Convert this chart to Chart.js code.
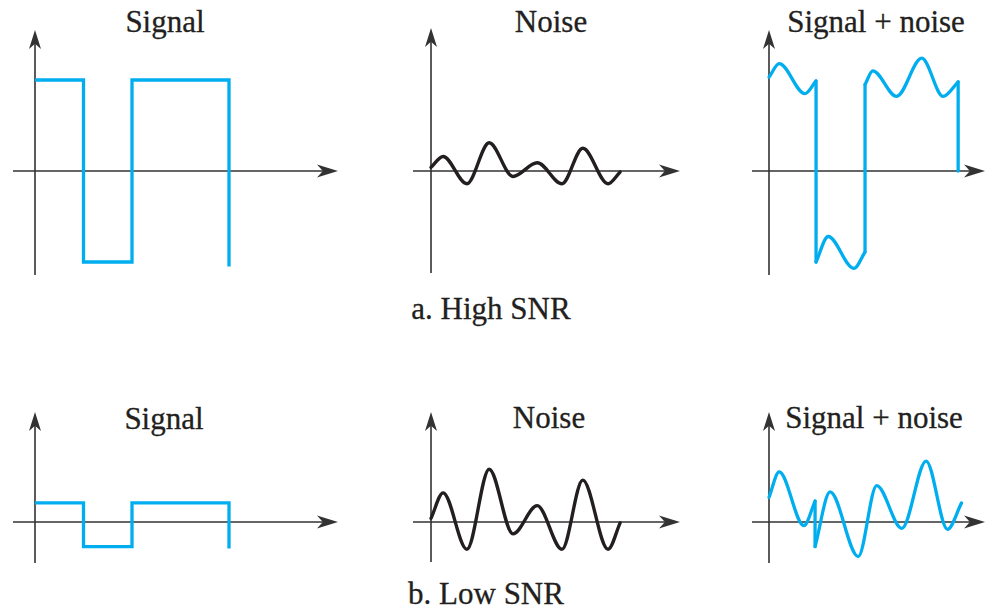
<!DOCTYPE html>
<html>
<head>
<meta charset="utf-8">
<script src="https://cdn.jsdelivr.net/npm/chart.js@4/dist/chart.umd.min.js"></script>
<style>
html,body{margin:0;padding:0;background:#fff;}
body{width:987px;height:610px;position:relative;overflow:hidden;font-family:"Liberation Serif","Times New Roman",serif;color:#231f20;}
canvas{position:absolute;}
.t{position:absolute;font-family:"Liberation Serif","Times New Roman",serif;font-size:31px;line-height:31px;white-space:nowrap;transform:translateX(-50%);-webkit-text-stroke:0.3px #231f20;}
</style>
</head>
<body>
<div class="t" style="left:165px;top:6px;">Signal</div>
<div class="t" style="left:551px;top:6px;">Noise</div>
<div class="t" style="left:876px;top:6px;">Signal + noise</div>
<div class="t" style="left:491px;top:293px;">a. High SNR</div>
<div class="t" style="left:164px;top:403px;">Signal</div>
<div class="t" style="left:549px;top:402px;">Noise</div>
<div class="t" style="left:874px;top:402px;">Signal + noise</div>
<div class="t" style="left:486px;top:578px;">b. Low SNR</div>

<canvas id="a1" width="360" height="300" style="left:0;top:0"></canvas>
<canvas id="a2" width="330" height="300" style="left:380px;top:0"></canvas>
<canvas id="a3" width="257" height="300" style="left:730px;top:0"></canvas>
<canvas id="b1" width="360" height="230" style="left:0;top:380px"></canvas>
<canvas id="b2" width="330" height="230" style="left:380px;top:380px"></canvas>
<canvas id="b3" width="257" height="230" style="left:730px;top:380px"></canvas>

<script>
// ---------- data (time in bit periods, amplitude relative to high-SNR signal level) ----------
// a. High SNR
const signalTimeA = [0, 1, 1, 2, 2, 4, 4];
const signalA     = [1, 1, -1, -1, 1, 1, -1.05];
const noiseTimeA  = [0, 0.25, 0.74, 1.2, 1.69, 2.19, 2.7, 3.13, 3.65, 3.9];
const noiseA      = [0.04, 0.16, -0.14, 0.31, -0.06, 0.09, -0.14, 0.25, -0.14, -0.01];
const sumTimeA    = [0, 0.21, 0.74, 0.97, 0.97, 1.22, 1.75, 1.98, 1.98, 2.14, 2.63, 3.15, 3.59, 3.9, 3.9];
const sumA        = [1.03, 1.18, 0.85, 0.99, -1.0, -0.72, -1.07, -0.89, 0.95, 1.1, 0.82, 1.24, 0.82, 0.98, 0];
// b. Low SNR
const signalTimeB = [0, 1, 1, 2, 2, 4, 4];
const signalB     = [0.21, 0.21, -0.27, -0.27, 0.21, 0.21, -0.29];
const noiseTimeB  = [0, 0.25, 0.74, 1.2, 1.69, 2.19, 2.7, 3.13, 3.65, 3.9];
const noiseB      = [0.04, 0.32, -0.3, 0.58, -0.13, 0.18, -0.3, 0.46, -0.3, -0.01];
const sumTimeB    = [0, 0.21, 0.72, 0.95, 0.95, 1.26, 1.84, 2.22, 2.74, 3.24, 3.68, 3.97];
const sumB        = [0.27, 0.55, -0.04, 0.23, -0.27, 0.33, -0.38, 0.4, -0.07, 0.67, -0.08, 0.21];

// ---------- styling / layout ----------
const BLUE = '#00aeef';
const INK = '#231f20';
const AXIS = '#333333';
const UX = 48.5;   // px per bit period
const UY = 91;     // px per amplitude unit

function pts(t, v){ return t.map((x,i)=>({x:x, y:v[i]})); }

function splitRuns(t, v){
  const runs = [], jumps = [];
  let cur = [{x:t[0], y:v[0]}];
  for (let i = 1; i < t.length; i++){
    if (t[i] === t[i-1]){
      runs.push(cur);
      jumps.push([{x:t[i-1], y:v[i-1]}, {x:t[i], y:v[i]}]);
      cur = [{x:t[i], y:v[i]}];
    } else cur.push({x:t[i], y:v[i]});
  }
  runs.push(cur);
  return {runs: runs.filter(r => r.length > 1), jumps};
}

function stepDatasets(t, v){
  return [{data: pts(t, v), borderColor: BLUE, borderWidth: 3.3, tension: 0,
           borderJoinStyle: 'miter', borderCapStyle: 'butt'}];
}
function smoothDatasets(t, v, color, width){
  const s = splitRuns(t, v), out = [];
  s.runs.forEach(r => out.push({data: r, borderColor: color, borderWidth: width,
      cubicInterpolationMode: 'monotone', tension: 0.4, borderCapStyle: 'round', borderJoinStyle: 'round'}));
  s.jumps.forEach(j => out.push({data: j, borderColor: color, borderWidth: width, tension: 0,
      borderCapStyle: 'round'}));
  return out;
}

const axesPlugin = {
  id: 'axesArrows',
  beforeDatasetsDraw(chart, args, opts){
    const ctx = chart.ctx, xs = chart.scales.x, ys = chart.scales.y;
    const x0 = xs.getPixelForValue(0), y0 = ys.getPixelForValue(0);
    const xa = xs.getPixelForValue(opts.x[0]), xb = xs.getPixelForValue(opts.x[1]);
    const ya = ys.getPixelForValue(opts.y[0]), yb = ys.getPixelForValue(opts.y[1]);
    ctx.save();
    ctx.strokeStyle = AXIS; ctx.fillStyle = AXIS; ctx.lineWidth = 1.6;
    ctx.beginPath();
    ctx.moveTo(xa, y0); ctx.lineTo(xb - 10, y0);
    ctx.moveTo(x0, ya); ctx.lineTo(x0, yb + 10);
    ctx.stroke();
    // x arrow
    const L = 21, W = 6.5;
    ctx.beginPath();
    ctx.moveTo(xb, y0); ctx.lineTo(xb - L, y0 - W); ctx.lineTo(xb - L*0.72, y0); ctx.lineTo(xb - L, y0 + W);
    ctx.closePath(); ctx.fill();
    // y arrow
    const L2 = 19, W2 = 6;
    ctx.beginPath();
    ctx.moveTo(x0, yb); ctx.lineTo(x0 - W2, yb + L2); ctx.lineTo(x0, yb + L2*0.72); ctx.lineTo(x0 + W2, yb + L2);
    ctx.closePath(); ctx.fill();
    ctx.restore();
  }
};

const panels = [
  {id:'a1', box:[0,0,360,300],     origin:[35,171],  ax:[-0.454,6.247], ay:[-1.143,1.549], ds: stepDatasets(signalTimeA, signalA)},
  {id:'a2', box:[380,0,330,300],   origin:[431,171], ax:[-0.371,5.134], ay:[-1.121,1.571], ds: smoothDatasets(noiseTimeA, noiseA, INK, 3.4)},
  {id:'a3', box:[730,0,257,300],   origin:[769,171], ax:[-0.351,4.454], ay:[-1.143,1.549], ds: smoothDatasets(sumTimeA, sumA, BLUE, 3.3)},
  {id:'b1', box:[0,380,360,230],   origin:[35,522],  ax:[-0.454,6.247], ay:[-0.451,1.209], ds: stepDatasets(signalTimeB, signalB)},
  {id:'b2', box:[380,380,330,230], origin:[431,522], ax:[-0.371,5.134], ay:[-0.440,1.209], ds: smoothDatasets(noiseTimeB, noiseB, INK, 3.4)},
  {id:'b3', box:[730,380,257,230], origin:[769,522], ax:[-0.351,4.454], ay:[-0.451,1.209], ds: smoothDatasets(sumTimeB, sumB, BLUE, 3.3)}
];

panels.forEach(p => {
  const [L, T, W, H] = p.box, [ox, oy] = p.origin;
  new Chart(document.getElementById(p.id), {
    type: 'line',
    data: {datasets: p.ds},
    options: {
      responsive: false, animation: false, events: [],
      layout: {padding: 0},
      elements: {point: {radius: 0, hoverRadius: 0}},
      scales: {
        x: {type: 'linear', display: false, min: (L - ox)/UX, max: (L + W - ox)/UX},
        y: {type: 'linear', display: false, min: (oy - T - H)/UY, max: (oy - T)/UY}
      },
      plugins: {legend: {display: false}, tooltip: {enabled: false}, title: {display: false},
                axesArrows: {x: p.ax, y: p.ay}}
    },
    plugins: [axesPlugin]
  });
});
</script>
</body>
</html>
